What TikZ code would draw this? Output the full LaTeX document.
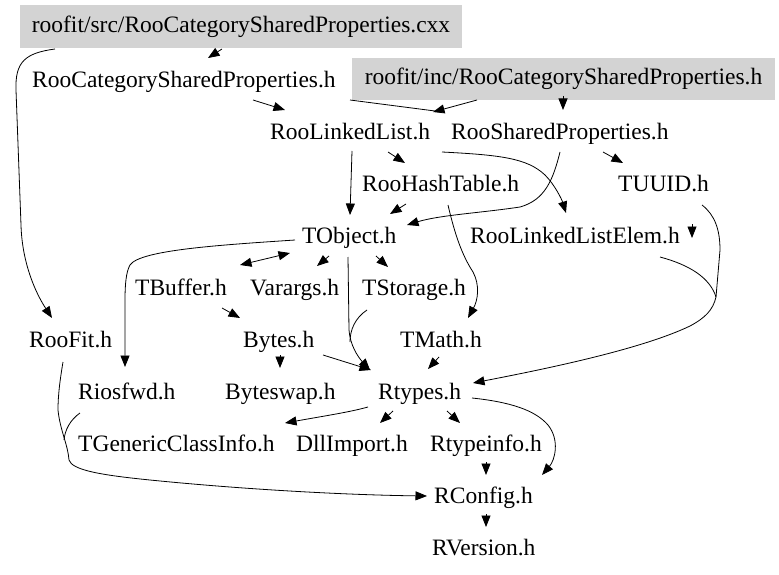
\documentclass[tikz,border=0pt]{standalone}
\usepackage{fontspec}
\setmainfont{Liberation Serif}
\usetikzlibrary{arrows.meta}
\definecolor{boxgray}{HTML}{D3D3D3}
\begin{document}
\begin{tikzpicture}[x=1pt,y=-1pt,
  lbl/.style={anchor=base west,inner sep=0pt,font=\fontsize{23.5}{28}\selectfont},
  filebox/.style={fill=boxgray,draw=none,inner sep=0pt,font=\fontsize{23.5}{28}\selectfont},
  edge/.style={line width=0.8pt},
  arr/.style={edge,-{Triangle[length=11.5pt,width=9pt]}},
  arrboth/.style={edge,{Triangle[length=11.5pt,width=9pt]}-{Triangle[length=11.5pt,width=9pt]}}]
\useasboundingbox[fill=white] (0,0) rectangle (779,575);
% boxes
\node[filebox,minimum width=442pt,minimum height=43pt] (src) at (241,26.5) {roofit/src/RooCategorySharedProperties.cxx};
\node[filebox,minimum width=423pt,minimum height=42pt] (inc) at (563.5,79) {roofit/inc/RooCategorySharedProperties.h};
% labels
\node[lbl] (rcsp) at (32,87.5) {RooCategorySharedProperties.h};
\node[lbl] (rll) at (270,139.5) {RooLinkedList.h};
\node[lbl] (rsp) at (451,139.5) {RooSharedProperties.h};
\node[lbl] (rht) at (362,191.5) {RooHashTable.h};
\node[lbl] (tuuid) at (618,191.5) {TUUID.h};
\node[lbl] (tobj) at (302,243.5) {TObject.h};
\node[lbl] (rlle) at (470,243.5) {RooLinkedListElem.h};
\node[lbl] (tbuf) at (135,295.5) {TBuffer.h};
\node[lbl] (varg) at (250,295.5) {Varargs.h};
\node[lbl] (tstor) at (362,295.5) {TStorage.h};
\node[lbl] (roofit) at (29,347.5) {RooFit.h};
\node[lbl] (bytes) at (243,347.5) {Bytes.h};
\node[lbl] (tmath) at (400,347.5) {TMath.h};
\node[lbl] (rios) at (78,399.5) {Riosfwd.h};
\node[lbl] (bswap) at (225,399.5) {Byteswap.h};
\node[lbl] (rtypes) at (378,399.5) {Rtypes.h};
\node[lbl] (tgci) at (78,451.5) {TGenericClassInfo.h};
\node[lbl] (dll) at (296,451.5) {DllImport.h};
\node[lbl] (rti) at (430,451.5) {Rtypeinfo.h};
\node[lbl] (rconf) at (434,503.5) {RConfig.h};
\node[lbl] (rver) at (432,555.5) {RVersion.h};
% edges
\draw[arr] (222,49) -- (208,58);
\draw[arr] (55,49) .. controls (25,53) and (15,62) .. (16,90) -- (21,225) .. controls (22,262) and (35,292) .. (52,318);
\draw[arr] (253,100) -- (285,110);
\draw[edge] (350,100) -- (435,111);
\draw[arr] (477,100) -- (433,112);
\draw[arr] (563,96) -- (563,110);
\draw[arr] (388,152) -- (405,163);
\draw[arr] (352,151) -- (350,215);
\draw[arr] (442,152) .. controls (500,155) and (527,158) .. (545,175) .. controls (555,185) and (562,200) .. (566,213);
\draw[arr] (560,152) .. controls (553,180) and (545,200) .. (520,207) .. controls (480,213) and (440,215) .. (407,225);
\draw[arr] (603,152) -- (623,163);
\draw[arr] (406,204) -- (390,214);
\draw[arr] (448,205) .. controls (455,235) and (462,255) .. (473,272) .. controls (480,285) and (478,300) .. (468,318);
\draw[arr] (702,205) .. controls (715,215) and (720,230) .. (720,250) -- (716,297) .. controls (713,310) and (705,318) .. (690,326) .. controls (640,350) and (540,370) .. (473,383);
\draw[edge] (660,257) .. controls (690,265) and (710,278) .. (716,297);
\draw[arr] (692,224) -- (692,238);
\draw[arrboth] (240,265) -- (290,253);
\draw[arr] (329,256) -- (317,266);
\draw[arr] (376,256) -- (388,267);
\draw[arr] (295,240) .. controls (220,245) and (140,250) .. (130,265) .. controls (126,272) and (125,285) .. (125,300) -- (125,367);
\draw[arr] (348,257) -- (349,330) .. controls (350,345) and (358,357) .. (370,370);
\draw[edge] (367,310) .. controls (355,318) and (350,330) .. (350,342);
\draw[arr] (222,308) -- (240,318);
\draw[arr] (323,355) -- (371,370);
\draw[arr] (280,355) -- (280,368);
\draw[arr] (439,357) -- (428,369);
\draw[arr] (63,362) .. controls (60,380) and (58,395) .. (58,410) .. controls (60,430) and (68,445) .. (69,460) .. controls (72,470) and (100,475) .. (150,480) .. controls (250,490) and (350,495) .. (427,496);
\draw[edge] (80,413) .. controls (70,420) and (65,430) .. (64,440);
\draw[arr] (368,407) .. controls (350,412) and (330,415) .. (285,423);
\draw[arr] (393,411) -- (380,423);
\draw[arr] (447,411) -- (460,423);
\draw[arr] (472,398) .. controls (510,402) and (535,410) .. (548,425) .. controls (560,440) and (555,460) .. (542,475);
\draw[arr] (486,462) -- (486,475);
\draw[arr] (486,514) -- (486,527);
\end{tikzpicture}
\end{document}
